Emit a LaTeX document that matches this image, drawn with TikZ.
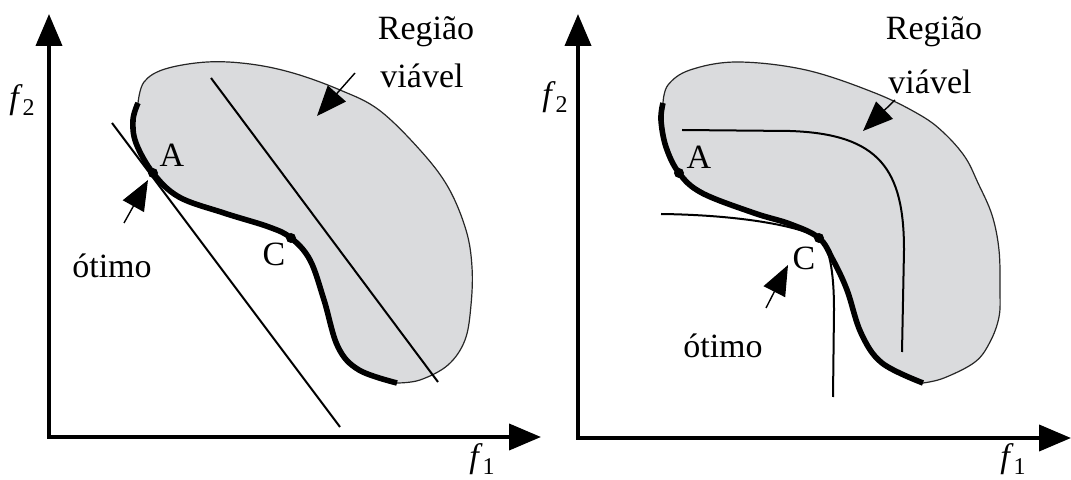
\documentclass[tikz,border=0pt]{standalone}
\usepackage{fontspec}
\setmainfont{Liberation Serif}
\usetikzlibrary{arrows.meta}
\definecolor{regfill}{RGB}{218,219,221}
\newcommand{\flab}[1]{\textit{f}\raisebox{-0.45ex}{\fontsize{12}{14}\selectfont #1}}
\begin{document}
\begin{tikzpicture}[x=0.5pt,y=-0.5pt,
  axis/.style={line width=2pt,-{Triangle[length=16pt,width=13pt]}},
  outline/.style={draw=black!85,line width=0.6pt,fill=regfill},
  front/.style={line width=2.8pt,line cap=butt},
  thin line/.style={line width=1pt},
  pointer/.style={line width=0.7pt,-{Triangle[length=15pt,width=12pt]}},
  lbl/.style={inner sep=0pt,font=\fontsize{17}{20}\selectfont},
  dot/.style={circle,fill=black,inner sep=0pt,minimum size=5pt}]
\useasboundingbox (0,0) rectangle (1071,480);
% ---------------- left panel ----------------
\path[outline] plot[smooth,tension=0.6] coordinates {(138,103) (144,82) (165,69) (207,62) (250,64) (293,73) (340,90) (379,110) (420,150) (448,187) (466,230) (472,267) (471,305) (465,340) (448,365) (420,380) (397,383)}
  -- plot[smooth,tension=0.6] coordinates {(397,383) (359,370) (338,347) (324,300) (310,260) (291,238) (269,227) (224,213) (179,197) (153,173) (136,143) (133,120) (138,103)} -- cycle;
\draw[front] plot[smooth,tension=0.6] coordinates {(397,383) (359,370) (338,347) (324,300) (310,260) (291,238) (269,227) (224,213) (179,197) (153,173) (136,143) (133,120) (138,103)};
\coordinate (L1a) at (112,123); \coordinate (L1b) at (340,427);
\coordinate (L2a) at (211,78); \coordinate (L2b) at (438,382);
\draw[thin line] (L1a) -- (L1b);
\draw[thin line] (L2a) -- (L2b);
\node[dot] (Ad) at (153,173) {};
\node[dot] (Cd) at (291,238) {};
\coordinate (O1) at (49,437);
\coordinate (Y1) at (49,14);
\coordinate (X1) at (541,437);
\draw[axis] (O1) -- (Y1);
\draw[axis] ([xshift=-1pt]O1) -- (X1);
\node[lbl] (f2l) at (22,100) {\flab{2}};
\node[lbl] (f1l) at (482,459) {\flab{1}};
\node[lbl] (Al) at (172,155) {A};
\node[lbl] (Cl) at (274,254) {C};
\node[lbl] (regL) at (426,32) {Região};
\node[lbl] (viaL) at (422,76) {viável};
\node[lbl] (otL) at (112,266) {ótimo};
\coordinate (pRLt) at (355,73); \coordinate (pRLh) at (317,116);
\draw[pointer] (pRLt) -- (pRLh);
\coordinate (pOLt) at (124,223); \coordinate (pOLh) at (148,180);
\draw[pointer] (pOLt) -- (pOLh);
% ---------------- right panel ----------------
\path[outline] plot[smooth,tension=0.6] coordinates {(663,103) (668,85) (690,70) (737,62) (806,70) (875,93) (920,115) (944,133) (965,157) (978,183) (992,215) (999,250) (1000,290) (999,317) (990,342) (975,362) (944,378) (923,383)}
  -- plot[smooth,tension=0.6] coordinates {(923,383) (882,363) (861,333) (847,290) (833,260) (819,238) (790,224) (754,213) (702,193) (679,173) (666,147) (661,120) (663,103)} -- cycle;
\draw[front] plot[smooth,tension=0.6] coordinates {(923,383) (882,363) (861,333) (847,290) (833,260) (819,238) (790,224) (754,213) (702,193) (679,173) (666,147) (661,120) (663,103)};
\coordinate (I1) at (682,130);
\coordinate (I2) at (790,131);
\coordinate (I3) at (904,250);
\coordinate (I4) at (902,352);
\draw[thin line] (I1) -- (I2) .. controls (880,134) and (904,170) .. (I3) -- (I4);
\coordinate (T1) at (661,214);
\coordinate (T2) at (819,238);
\coordinate (T3) at (834,310);
\coordinate (T4) at (833,397);
\draw[thin line] (T1) .. controls (740,215) and (800,226) .. (T2) .. controls (829,245) and (834,270) .. (T3) -- (T4);
\node[dot] (Ad2) at (679,173) {};
\node[dot] (Cd2) at (819,238) {};
\coordinate (O2) at (578,438);
\coordinate (Y2) at (578,14);
\coordinate (X2) at (1071,438);
\draw[axis] (O2) -- (Y2);
\draw[axis] ([xshift=-1pt]O2) -- (X2);
\node[lbl] (f2r) at (555,97) {\flab{2}};
\node[lbl] (f1r) at (1013,459) {\flab{1}};
\node[lbl] (Ar) at (699,157) {A};
\node[lbl] (Cr) at (804,258) {C};
\node[lbl] (regR) at (934,32) {Região};
\node[lbl] (viaR) at (930,82) {viável};
\node[lbl] (otR) at (723,346) {ótimo};
\coordinate (pRRt) at (895,100); \coordinate (pRRh) at (863,131);
\draw[pointer] (pRRt) -- (pRRh);
\coordinate (pORt) at (766,308); \coordinate (pORh) at (788,265);
\draw[pointer] (pORt) -- (pORh);
\end{tikzpicture}
\end{document}
